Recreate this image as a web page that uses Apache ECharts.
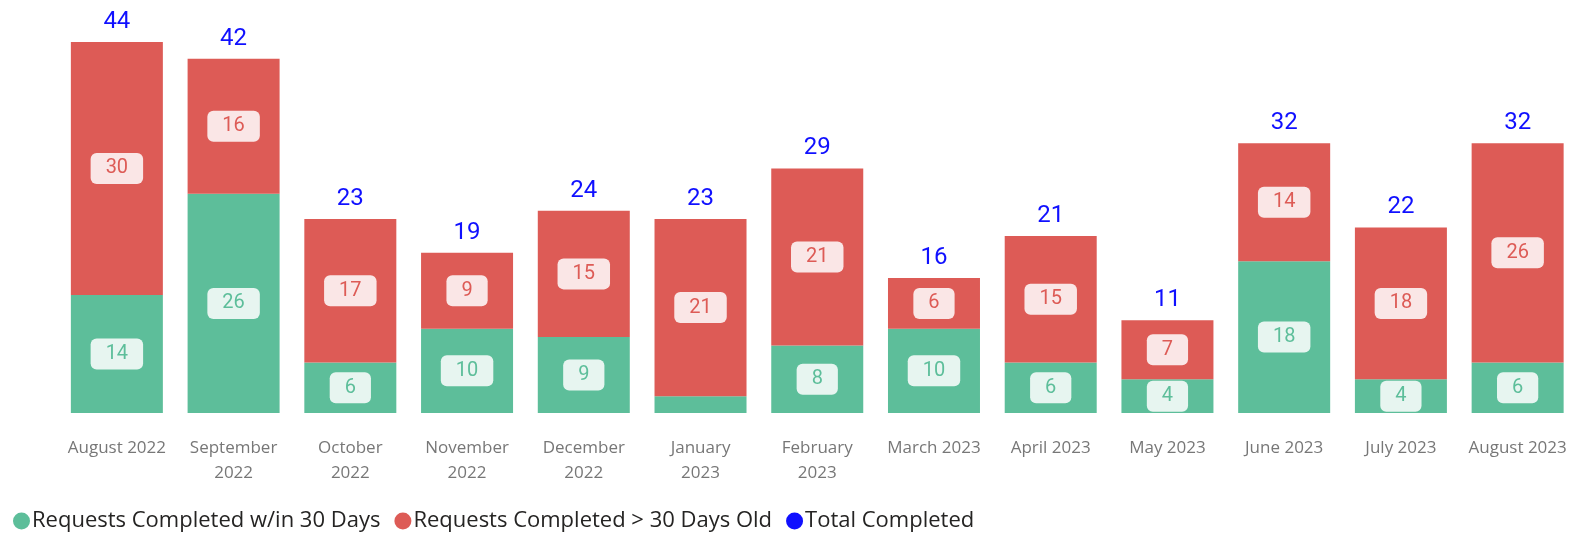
<!DOCTYPE html>
<html>
<head>
<meta charset="utf-8">
<script src="https://cdn.jsdelivr.net/npm/echarts@6/dist/echarts.min.js"></script>
<style>
  html, body { margin: 0; padding: 0; background: #fff; }
  #chart { width: 1576px; height: 536px; }
</style>
</head>
<body>
<div id="chart"></div>
<script>
// Monthly completed requests, split by age at completion
const categories = ['August 2022', 'September 2022', 'October 2022', 'November 2022', 'December 2022',
  'January 2023', 'February 2023', 'March 2023', 'April 2023', 'May 2023', 'June 2023', 'July 2023', 'August 2023'];
const tickLabels = ['August 2022', 'September\n2022', 'October\n2022', 'November\n2022', 'December\n2022',
  'January\n2023', 'February\n2023', 'March 2023', 'April 2023', 'May 2023', 'June 2023', 'July 2023', 'August 2023'];
const within30 = [14, 26, 6, 10, 9, 2, 8, 10, 6, 4, 18, 4, 6];
const over30 = [30, 16, 17, 9, 15, 21, 21, 6, 15, 7, 14, 18, 26];
const totals = [44, 42, 23, 19, 24, 23, 29, 16, 21, 11, 32, 22, 32];

const GREEN = '#5dbe9a';
const RED = '#dd5b56';
const BLUE = '#1010ff';
const numFont = 'Roboto, "DejaVu Sans", sans-serif';

function segLabel(textColor, bg) {
  return {
    show: true,
    position: 'inside',
    color: textColor,
    fontFamily: numFont,
    fontSize: 20,
    backgroundColor: bg,
    borderRadius: 6,
    padding: [6, 15, 5, 15]
  };
}

// Segments too short to hold a label stay unlabelled
function withLabels(values) {
  return values.map(v => ({ value: v, label: { show: v >= 3 } }));
}

const chart = echarts.init(document.getElementById('chart'), null, { renderer: 'canvas' });
chart.setOption({
  animation: false,
  grid: { left: 58.5, width: 1520, top: 42, bottom: 123, containLabel: false },
  legend: {
    left: 8,
    top: 505,
    icon: 'circle',
    itemWidth: 17,
    itemHeight: 17,
    itemGap: 14,
    textStyle: { color: '#252423', fontSize: 22, fontFamily: '"Open Sans", sans-serif', padding: [0, 0, 0, -3] },
    data: ['Requests Completed w/in 30 Days', 'Requests Completed > 30 Days Old', 'Total Completed']
  },
  xAxis: {
    type: 'category',
    data: categories,
    axisLine: { show: false },
    axisTick: { show: false },
    axisLabel: {
      interval: 0,
      margin: 23,
      color: '#777777',
      fontSize: 17,
      lineHeight: 25,
      fontFamily: '"Open Sans", sans-serif',
      formatter: (v, i) => tickLabels[i]
    }
  },
  yAxis: {
    type: 'value',
    min: 0,
    max: 44,
    show: false,
    splitLine: { show: false }
  },
  series: [
    {
      name: 'Requests Completed w/in 30 Days',
      type: 'bar',
      stack: 'total',
      barWidth: 92,
      itemStyle: { color: GREEN },
      label: segLabel('#5dbe9a', 'rgba(255,255,255,0.85)'),
      data: withLabels(within30)
    },
    {
      name: 'Requests Completed > 30 Days Old',
      type: 'bar',
      stack: 'total',
      barWidth: 92,
      itemStyle: { color: RED },
      label: segLabel('#dd5b56', 'rgba(255,255,255,0.85)'),
      data: withLabels(over30)
    },
    {
      name: 'Total Completed',
      type: 'line',
      data: totals,
      symbol: 'circle',
      symbolSize: 0.01,
      itemStyle: { color: BLUE },
      lineStyle: { opacity: 0 },
      label: {
        show: true,
        position: 'top',
        distance: 8,
        color: BLUE,
        fontFamily: numFont,
        fontSize: 24
      },
      z: 5
    }
  ]
});
</script>
</body>
</html>
